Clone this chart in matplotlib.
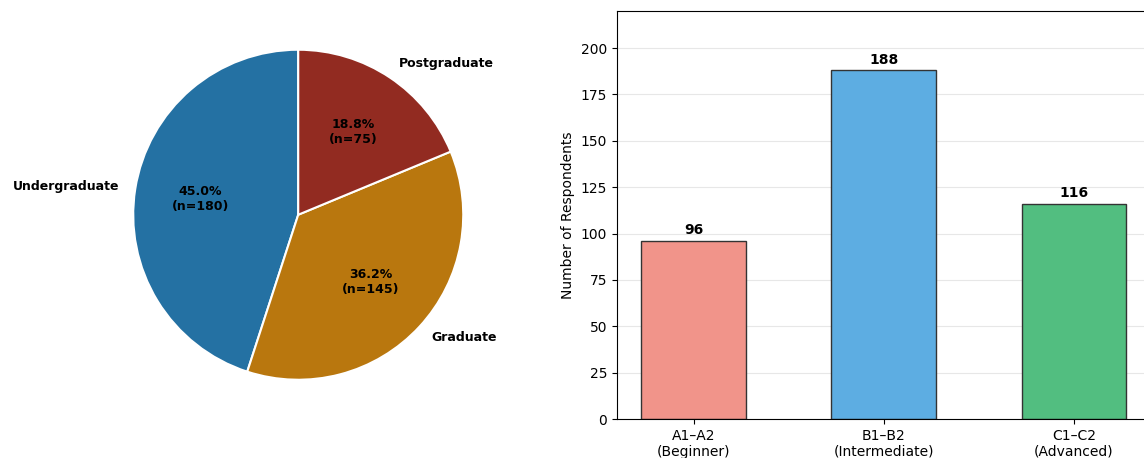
import matplotlib
matplotlib.use("Agg")
import matplotlib.pyplot as plt

# education level (pie)
edu_labels = ["Undergraduate", "Graduate", "Postgraduate"]
edu_counts = [180, 145, 75]
edu_colors = ["#2471a3", "#b9770e", "#922b21"]

# proficiency level (bars)
prof_labels = ["A1–A2\n(Beginner)", "B1–B2\n(Intermediate)", "C1–C2\n(Advanced)"]
prof_counts = [96, 188, 116]
prof_colors = ["#f1948a", "#5dade2", "#52be80"]

total = sum(edu_counts)


def pct_fmt(p):
    n = int(round(p * total / 100.0))
    return f"{p:.1f}%\n(n={n})"


fig = plt.figure(figsize=(11.44, 4.58), dpi=100)

# pie on the left
ax1 = fig.add_axes([0.0804, 0.0808, 0.3606, 0.9007])
wedges, texts, autotexts = ax1.pie(
    edu_counts, labels=edu_labels, colors=edu_colors, autopct=pct_fmt,
    startangle=90, wedgeprops=dict(edgecolor="white", linewidth=1.5),
    textprops=dict(fontsize=9, fontweight="bold"))
for t in autotexts:
    t.set_color("black")
ax1.set_aspect("equal")

# bars on the right
ax2 = fig.add_axes([0.5393, 0.085, 0.4664, 0.891])
x = range(len(prof_counts))
bars = ax2.bar(x, prof_counts, width=0.55, color=prof_colors,
               edgecolor="#333333", linewidth=1)
for b, v in zip(bars, prof_counts):
    ax2.text(b.get_x() + b.get_width() / 2, v + 2, str(v),
             ha="center", va="bottom", fontsize=10, fontweight="bold")
ax2.set_xticks(list(x))
ax2.set_xticklabels(prof_labels, fontsize=10)
ax2.set_ylim(0, 220)
ax2.set_yticks(range(0, 201, 25))
ax2.tick_params(axis="y", labelsize=10)
ax2.set_ylabel("Number of Respondents", fontsize=10)
ax2.yaxis.grid(True, alpha=0.3)
ax2.set_axisbelow(True)

fig.savefig("out.png", dpi=100)
